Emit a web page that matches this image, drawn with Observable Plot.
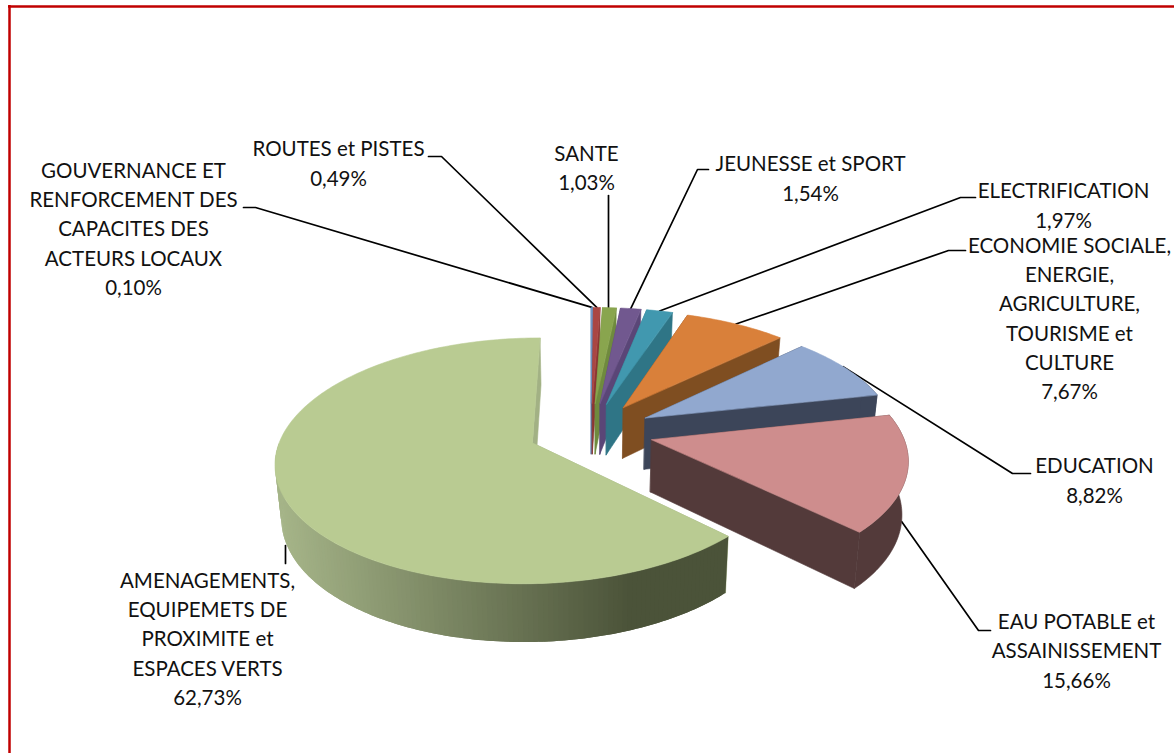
<!DOCTYPE html>
<html><head><meta charset="utf-8">
<script src="https://cdn.jsdelivr.net/npm/d3@7"></script>
<script src="https://cdn.jsdelivr.net/npm/@observablehq/plot@0.6"></script>
<style>html,body{margin:0;padding:0;background:#fff;overflow:hidden}svg{display:block}</style>
</head><body><div id="chart"></div>
<script>
// Data, in chart order (clockwise from the top)
const categories = [
  "GOUVERNANCE ET\nRENFORCEMENT DES\nCAPACITES DES\nACTEURS LOCAUX",
  "ROUTES et PISTES",
  "SANTE",
  "JEUNESSE et SPORT",
  "ELECTRIFICATION",
  "ECONOMIE SOCIALE,\nENERGIE,\nAGRICULTURE,\nTOURISME et\nCULTURE",
  "EDUCATION",
  "EAU POTABLE et\nASSAINISSEMENT",
  "AMENAGEMENTS,\nEQUIPEMETS DE\nPROXIMITE et\nESPACES VERTS"
];
const shares = [0.10, 0.49, 1.03, 1.54, 1.97, 7.67, 8.82, 15.66, 62.73];
const percentLabels = ["0,10%","0,49%","1,03%","1,54%","1,97%","7,67%","8,82%","15,66%","62,73%"];

// Styles
const topColors  = ["#6f93c4","#aa4643","#89a54e","#71588f","#4198af","#d9803a","#91a8cf","#ce8d8d","#b9cb92"];
const wallColors = ["#4f6f9c","#8a3533","#6f8a3e","#5a4677","#2f7586","#7f4e21","#3c4559","#533a3a","#a2b184"];

// Layout: label centres and leader elbows, pixel space
const labelX = [133, 338, 586, 810, 1063, 1069, 1094, 1076, 207];
const labelY = [226.5, 161, 165.5, 176, 203, 316, 478, 648.5, 636.5];
const elbowX = [[243,255],[428,441],[608],[708,697],[975,960],[965,948],[1030,1012],[990,978],[285]];
const elbowY = [207,156,195,169,197,250,473,630,545];
const anchorFrac = [0.5,0.5,0.5,0.5,0.5,0.5,0.47,0.45,0.84];

// 3D projection parameters
const cx = 590.5, cy = 431, R = 250, Ry = 117, k = 1/7, explode = 0.25, startDeg = 0, depth = 52;
const project = (u, v, low = false) => {
  const s = 1 / (1 - k * v);
  const X = cx + R * u * s, Y = cy + Ry * v * s;
  return low ? {X: cx + (X - cx) * 0.98, Y: Y + depth * (1 + 0.11 * v)} : {X, Y};
};

const total = d3.sum(shares);
let acc = startDeg;
const slices = shares.map((v, i) => {
  const a0 = acc, a1 = acc + v / total * 360; acc = a1;
  const mid = (a0 + a1) / 2 * Math.PI / 180;
  return {i, a0, a1, ox: explode * Math.sin(mid), oy: -explode * Math.cos(mid)};
});
const rim = (s, deg) => {
  const t = deg * Math.PI / 180;
  return [s.ox + Math.sin(t), s.oy - Math.cos(t)];
};
const arcSteps = (a0, a1) => {
  const n = Math.max(2, Math.ceil(a1 - a0));
  return d3.range(0, n + 1).map(j => a0 + (a1 - a0) * j / n);
};

const greenShade = d3.scaleLinear().domain([280, 630]).range(["#a5b488", "#4b5339"]).clamp(true);

const facets = [];
let fid = 0;
const add = (pts, c, stroke = c) => { const id = fid++; pts.forEach(p => facets.push({id, c, stroke, X: p.X, Y: p.Y})); };
for (const s of slices) {
  const wall = wallColors[s.i], top = topColors[s.i];
  const apexT = project(s.ox, s.oy), apexB = project(s.ox, s.oy, true);
  for (const deg of [s.a0, s.a1]) {
    const [u, v] = rim(s, deg);
    add([apexT, project(u, v), project(u, v, true), apexB], wall);
  }
  // Outer wall: only the rim that faces the viewer is visible
  const f0 = Math.max(s.a0, 70), f1 = Math.min(s.a1, 270);
  if (f1 > f0) {
    const steps = arcSteps(f0, f1);
    const up = steps.map(d => project(...rim(s, d)));
    const dn = steps.map(d => project(...rim(s, d), true));
    if (s.i === 8) {
      // Each strip overlaps the next so that no seam shows through
      for (let j = 0; j < steps.length - 1; j++) {
        const e = Math.min(j + 2, steps.length - 1);
        add([up[j], up[j + 1], up[e], dn[e], dn[j + 1], dn[j]], greenShade((up[j].X + up[j + 1].X) / 2), "none");
      }
    } else {
      add([...up, ...dn.reverse()], wall);
    }
  }
  add([apexT, ...arcSteps(s.a0, s.a1).map(d => project(...rim(s, d)))], top);
}

// Leaders: from each label elbow to a point on the rim of its slice
const leaders = slices.flatMap(s => {
  const [u, v] = rim(s, s.a0 + (s.a1 - s.a0) * anchorFrac[s.i]);
  const end = s.i === 7 ? project(u, v, true) : project(u, v);
  const xs = elbowX[s.i];
  return [...xs.map(X => ({i: s.i, X, Y: elbowY[s.i]})), {i: s.i, X: s.i === 2 || s.i === 8 ? xs[0] : end.X, Y: s.i === 8 ? elbowY[8] + 18 : end.Y}];
});

const labels = categories.map((c, i) => ({t: c + "\n" + percentLabels[i], X: labelX[i], Y: labelY[i]}));

const plot = Plot.plot({
  width: 1174, height: 753,
  marginTop: 0, marginRight: 0, marginBottom: 0, marginLeft: 0,
  x: {domain: [0, 1174], range: [0, 1174], axis: null},
  y: {domain: [0, 753], range: [0, 753], axis: null},
  color: {type: "identity"},
  style: {background: "#fff"},
  marks: [
    Plot.ruleY([6], {x1: 8, x2: 1174, stroke: "#c00000", strokeWidth: 2.5}),
    Plot.ruleX([9], {y1: 5, y2: 753, stroke: "#c00000", strokeWidth: 2.5}),
    Plot.line(leaders, {x: "X", y: "Y", z: "i", stroke: "#000", strokeWidth: 1.7}),
    Plot.line(facets, {x: "X", y: "Y", z: "id", fill: "c", stroke: "stroke", strokeWidth: 0.6, curve: "linear-closed"}),
    Plot.text(labels, {x: "X", y: "Y", text: "t", fontFamily: "Lato", fontSize: 20.5, lineHeight: 1.43, fill: "#111", textAnchor: "middle"})
  ]
});
document.getElementById("chart").append(plot);
</script>
</body></html>
